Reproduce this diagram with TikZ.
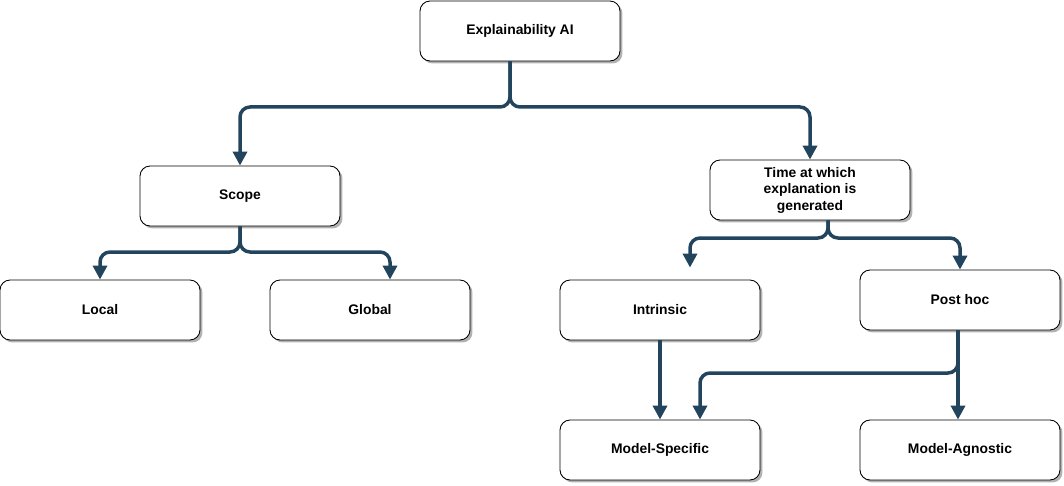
\documentclass[tikz,border=0pt]{standalone}
\usepackage{fontspec}
\setmainfont{Liberation Sans}
\usetikzlibrary{arrows.meta,shadows}
\definecolor{wire}{HTML}{23445D}

\begin{document}
\begin{tikzpicture}[x=0.02cm,y=-0.02cm,>={Triangle[length=0.28cm,width=0.28cm]},
  box/.style={draw=black,fill=white,rounded corners=0.2cm,minimum width=4cm,minimum height=1.2cm,
    align=center,font=\fontsize{7.9}{9.4}\selectfont\bfseries,line width=0.5pt,
    drop shadow={shadow xshift=0.05cm,shadow yshift=-0.05cm,fill=black!30,opacity=1}},
  conn/.style={wire,line width=0.07cm,rounded corners=0.2cm,->}]
  \useasboundingbox (0,0) rectangle (1064,486);
  % boxes
  \node[box] (xai)    at (520,31)  {Explainability AI};
  \node[box] (scope)  at (240,196) {Scope};
  \node[box] (time)   at (810,190) {Time at which\\explanation is\\generated};
  \node[box] (local)  at (100,310) {Local};
  \node[box] (global) at (370,310) {Global};
  \node[box] (intr)   at (660,310) {Intrinsic};
  \node[box] (post)   at (960,300) {Post hoc};
  \node[box] (spec)   at (660,450) {Model-Specific};
  \node[box] (agn)    at (960,450) {Model-Agnostic};
  % junctions
  \coordinate (j1) at (510,107);
  \coordinate (j2) at (240,252);
  \coordinate (j3) at (828,238);
  \coordinate (j4) at (958,373);
  % connectors
  \draw[conn] (xai.south -| j1) -- (j1) -| (scope.north);
  \draw[conn] (xai.south -| j1) -- (j1) -| (time.north);
  \draw[conn] (scope.south) -- (j2) -| (local.north);
  \draw[conn] (scope.south) -- (j2) -| ([xshift=0.4cm]global.north);
  \draw[conn] (time.south -| j3) -- (j3) -| ([xshift=0.6cm,yshift=0.24cm]intr.north);
  \draw[conn] (time.south -| j3) -- (j3) -| (post.north);
  \draw[conn] (intr.south) -- (spec.north);
  \draw[conn] (post.south -| j4) -- (agn.north -| j4);
  \draw[conn] (post.south -| j4) -- (j4) -| ([xshift=0.8cm]spec.north);
\end{tikzpicture}
\end{document}
